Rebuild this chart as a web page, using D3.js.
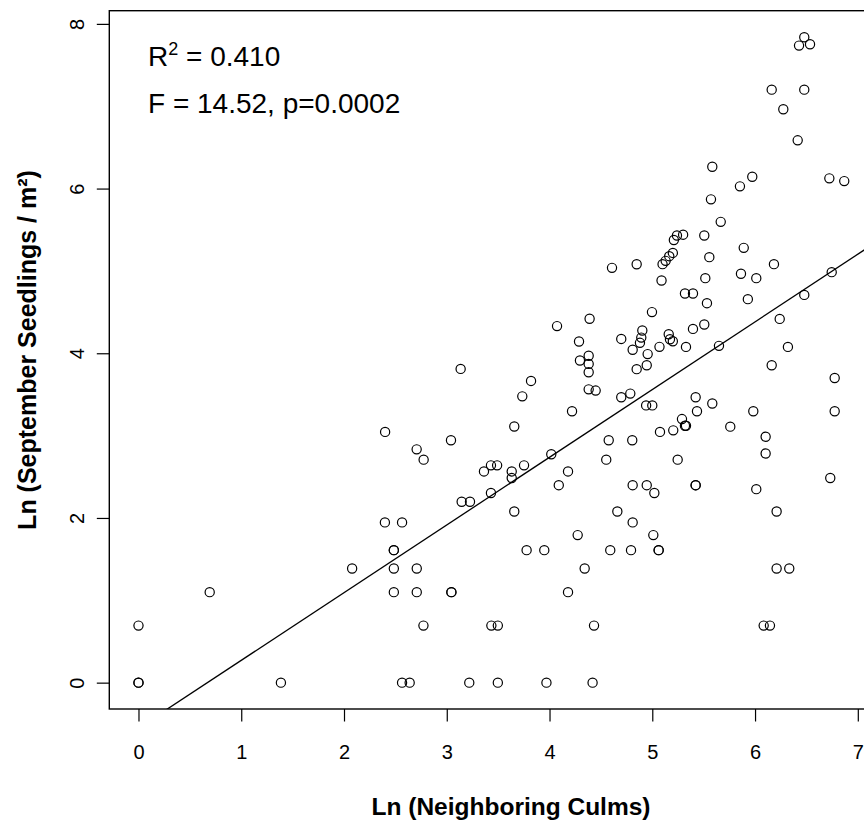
<!DOCTYPE html>
<html>
<head>
<meta charset="utf-8">
<script src="https://cdn.jsdelivr.net/npm/d3@7"></script>
<style>
  html, body { margin: 0; padding: 0; background: #fff; }
  svg { display: block; }
  text { font-family: "Liberation Sans", Arial, Helvetica, sans-serif; fill: #000; }
</style>
</head>
<body>
<div id="chart"></div>
<script>
// Ln (Neighboring Culms)
const culms = [
  0, 0, 1.386, 2.565, 2.639, 3.219, 3.497, 3.97, 4.419,
  0, 2.773, 3.434, 3.497, 4.433, 6.084, 6.145,
  0.693, 2.485, 2.708, 3.045, 3.045, 4.18,
  2.079, 2.485, 2.708, 4.342, 6.21, 6.333,
  2.485, 2.485, 3.777, 3.949, 4.591, 4.793, 5.062, 5.062,
  4.274, 5.01,
  2.398, 2.565, 4.809,
  3.657, 4.66, 6.21,
  3.145, 3.226,
  3.43, 5.02,
  4.09, 4.809, 4.946, 5.422, 5.422, 6.012,
  3.632, 6.732,
  3.362, 3.632, 4.18,
  3.43, 3.49, 3.752,
  2.775, 4.552, 5.247,
  4.017, 6.103,
  2.707,
  3.041, 4.576, 4.805, 6.103,
  2.40, 5.075, 5.204,
  3.657, 5.759, 5.318, 5.328, 5.289,
  4.219, 5.435, 5.983, 6.775,
  4.94, 5.0, 5.584, 5.422, 4.698, 3.735, 4.786, 4.381, 4.449, 3.82,
  6.775, 4.381, 4.848, 3.135, 6.162, 4.946, 4.381, 4.296, 4.381, 4.955,
  4.809, 5.07, 5.328, 5.649, 6.32, 4.88, 4.287, 4.698, 5.2, 5.172,
  5.16, 4.893, 4.903, 5.396, 4.073, 5.506, 4.39, 6.24, 4.997, 5.532,
  5.93, 6.479, 5.318, 5.396, 5.09, 5.516, 6.012, 5.863, 6.746, 4.608,
  4.848, 5.10, 6.184, 5.13, 5.555, 5.165, 5.2, 5.89, 5.21, 5.24,
  5.30, 5.506, 5.666, 5.571, 5.853, 6.868, 6.723, 5.973, 5.584, 6.415,
  6.275, 6.162, 6.479, 6.428, 6.535, 6.479
];
// Ln (September Seedlings / m²)
const seedlings = [
  0, 0, 0, 0, 0, 0, 0, 0, 0,
  0.693, 0.693, 0.693, 0.693, 0.693, 0.693, 0.693,
  1.099, 1.099, 1.099, 1.099, 1.099, 1.099,
  1.386, 1.386, 1.386, 1.386, 1.386, 1.386,
  1.609, 1.609, 1.609, 1.609, 1.609, 1.609, 1.609, 1.609,
  1.792, 1.792,
  1.946, 1.946, 1.946,
  2.079, 2.079, 2.079,
  2.197, 2.197,
  2.303, 2.303,
  2.398, 2.398, 2.398, 2.398, 2.398, 2.35,
  2.485, 2.485,
  2.565, 2.565, 2.565,
  2.639, 2.639, 2.639,
  2.708, 2.708, 2.708,
  2.773, 2.783,
  2.833,
  2.944, 2.944, 2.944, 2.986,
  3.045, 3.045, 3.064,
  3.11, 3.109, 3.12, 3.12, 3.201,
  3.296, 3.296, 3.296, 3.296,
  3.367, 3.367, 3.39, 3.466, 3.466, 3.477, 3.51, 3.562, 3.547, 3.664,
  3.70, 3.77, 3.807, 3.81, 3.854, 3.854, 3.871, 3.912, 3.97, 3.99,
  4.043, 4.078, 4.077, 4.09, 4.077, 4.127, 4.143, 4.174, 4.146, 4.17,
  4.231, 4.19, 4.277, 4.296, 4.33, 4.349, 4.419, 4.417, 4.50, 4.608,
  4.657, 4.709, 4.726, 4.726, 4.883, 4.912, 4.912, 4.965, 4.985, 5.037,
  5.081, 5.082, 5.082, 5.122, 5.167, 5.179, 5.219, 5.28, 5.375, 5.43,
  5.44, 5.43, 5.596, 5.869, 6.027, 6.091, 6.124, 6.144, 6.265, 6.586,
  6.963, 7.201, 7.201, 7.736, 7.753, 7.838
];
// fitted regression line: [intercept, slope]
const fitCoefs = [-0.551, 0.822];
const xTicks = [0, 1, 2, 3, 4, 5, 6, 7];
const yTicks = [0, 2, 4, 6, 8];
const xTitle = "Ln (Neighboring Culms)";
const yTitle = "Ln (September Seedlings / m²)";
const statR2 = "0.410";
const statF = "F = 14.52, p=0.0002";

const W = 864, H = 824;
const svg = d3.select("#chart").append("svg").attr("width", W).attr("height", H);

const x = d3.scaleLinear().domain([-0.284, 7.143]).range([109.3, 872.5]);
const y = d3.scaleLinear().domain([-0.32, 8.16]).range([709, 10.7]);

const pL = x.range()[0], pR = x.range()[1], pT = y.range()[1], pB = y.range()[0];

svg.append("clipPath").attr("id", "plotclip")
  .append("rect").attr("x", pL).attr("y", pT).attr("width", pR - pL).attr("height", pB - pT);

// box
svg.append("rect")
  .attr("x", pL).attr("y", pT).attr("width", pR - pL).attr("height", pB - pT)
  .attr("fill", "none").attr("stroke", "#000").attr("stroke-width", 1.4);

// x axis
const xAxis = d3.axisBottom(x).tickValues(xTicks).tickSize(12.5).tickSizeOuter(0).tickFormat(d3.format("d"));
const gx = svg.append("g").attr("transform", `translate(0,${pB})`).call(xAxis);
gx.select(".domain").remove();
gx.selectAll(".tick line").attr("stroke", "#000").attr("stroke-width", 1.2);
gx.selectAll(".tick text").attr("y", 50).attr("dy", null)
  .style("font-family", "'Liberation Sans', Arial, sans-serif").style("font-size", "20px").attr("fill", "#000");

// y axis
const yAxis = d3.axisLeft(y).tickValues(yTicks).tickSize(12.5).tickSizeOuter(0).tickFormat(d3.format("d"));
const gy = svg.append("g").attr("transform", `translate(${pL},0)`).call(yAxis);
gy.select(".domain").remove();
gy.selectAll(".tick line").attr("stroke", "#000").attr("stroke-width", 1.2);
gy.selectAll(".tick text")
  .attr("x", null).attr("dy", null).attr("text-anchor", "middle")
  .attr("transform", "translate(-25.5,0) rotate(-90)")
  .style("font-family", "'Liberation Sans', Arial, sans-serif").style("font-size", "20px").attr("fill", "#000");

// regression line
const xd = x.domain();
svg.append("line")
  .attr("clip-path", "url(#plotclip)")
  .attr("x1", x(xd[0])).attr("y1", y(fitCoefs[0] + fitCoefs[1] * xd[0]))
  .attr("x2", x(xd[1])).attr("y2", y(fitCoefs[0] + fitCoefs[1] * xd[1]))
  .attr("stroke", "#000").attr("stroke-width", 1.3);

// points
svg.append("g").selectAll("circle")
  .data(culms.map((c, i) => [c, seedlings[i]]))
  .join("circle")
  .attr("cx", d => x(d[0])).attr("cy", d => y(d[1]))
  .attr("r", 4.6)
  .attr("fill", "none").attr("stroke", "#000").attr("stroke-width", 1.2);

// stats text
const t1 = svg.append("text").attr("x", 148).attr("y", 66).style("font-size", "28px");
t1.append("tspan").text("R");
t1.append("tspan").attr("dy", -11).style("font-size", "18px").text("2");
t1.append("tspan").attr("dy", 11).text(" = " + statR2);
svg.append("text").attr("x", 148).attr("y", 113).style("font-size", "28px").text(statF);

// axis titles
svg.append("text").attr("x", 511).attr("y", 815).attr("text-anchor", "middle")
  .style("font-size", "24.5px").style("font-weight", "bold").text(xTitle);
svg.append("text").attr("transform", `translate(36,350) rotate(-90)`)
  .attr("text-anchor", "middle")
  .style("font-size", "25px").style("font-weight", "bold").text(yTitle);
</script>
</body>
</html>
